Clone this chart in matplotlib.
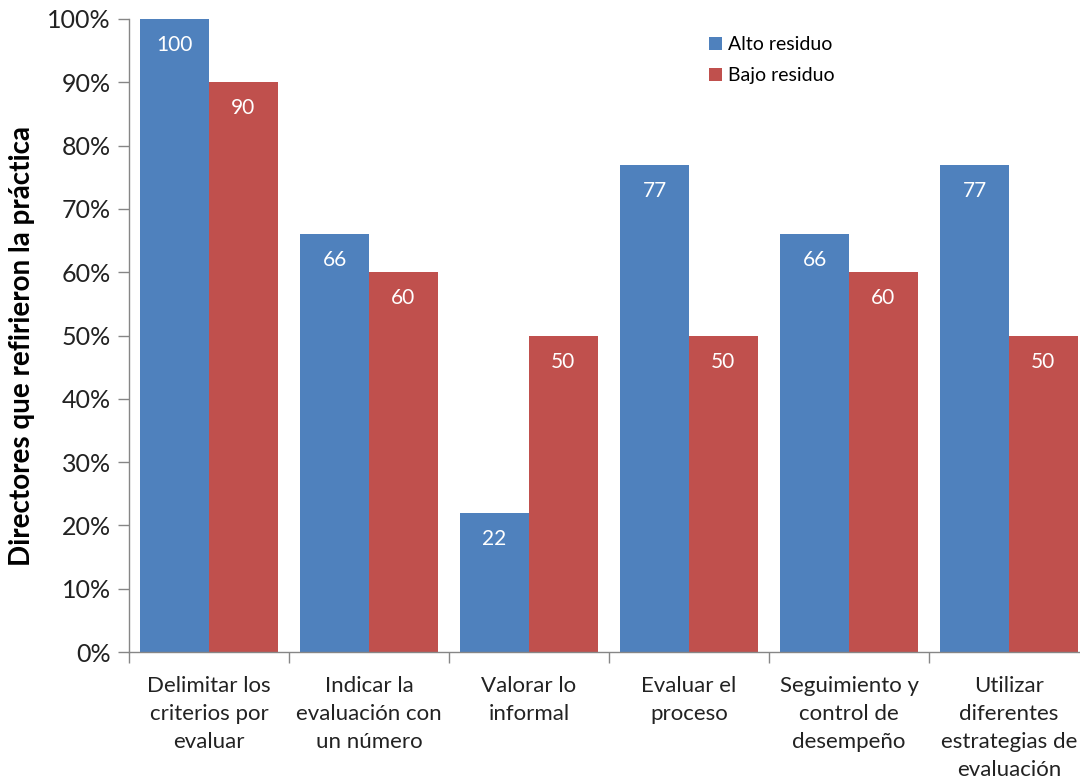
import numpy as np
import matplotlib
matplotlib.use('Agg')
import matplotlib.pyplot as plt
from matplotlib.ticker import FuncFormatter

plt.rcParams['font.family'] = ['Lato', 'DejaVu Sans']

categories = [
    'Delimitar los\ncriterios por\nevaluar',
    'Indicar la\nevaluación con\nun número',
    'Valorar lo\ninformal',
    'Evaluar el\nproceso',
    'Seguimiento y\ncontrol de\ndesempeño',
    'Utilizar\ndiferentes\nestrategias de\nevaluación',
]
alto = [100, 66, 22, 77, 66, 77]
bajo = [90, 60, 50, 50, 60, 50]

blue = '#4F81BD'
red = '#C0504D'
grey = '#868686'
txt = '#222222'

fig = plt.figure(figsize=(10.8, 7.82), dpi=100)
ax = fig.add_axes([129 / 1080, 130 / 782, 960 / 1080, 633 / 782])

x = np.arange(len(categories))
w = 0.43
b1 = ax.bar(x - w / 2, alto, w, color=blue, label='Alto residuo')
b2 = ax.bar(x + w / 2, bajo, w, color=red, label='Bajo residuo')

# white value labels just under the top of each bar
for bars in (b1, b2):
    for rect in bars:
        h = rect.get_height()
        ax.annotate(f'{h:.0f}', (rect.get_x() + rect.get_width() / 2, h),
                    xytext=(0, -26), textcoords='offset pixels',
                    ha='center', va='center', color='white', fontsize=15)

ax.set_xlim(-0.5, len(categories) - 0.5)
ax.set_ylim(0, 100)
ax.set_yticks(np.arange(0, 101, 10))
ax.yaxis.set_major_formatter(FuncFormatter(lambda v, p: f'{v:.0f}%'))
# tick marks between groups, labels centred on groups
ax.set_xticks(np.arange(len(categories) + 1) - 0.5)
ax.set_xticklabels([])
ax.set_xticks(x, minor=True)
ax.set_xticklabels(categories, minor=True, fontsize=16, color=txt,
                   linespacing=1.5)
ax.tick_params(axis='x', which='minor', length=0, pad=17)
ax.tick_params(axis='x', which='major', length=8, color=grey, width=1)
ax.tick_params(axis='y', length=8, color=grey, width=1, labelsize=18,
               labelcolor=txt, pad=5)

for s in ('top', 'right'):
    ax.spines[s].set_visible(False)
for s in ('left', 'bottom'):
    ax.spines[s].set_color(grey)
    ax.spines[s].set_linewidth(1)

fig.text(22 / 1080, 1 - 346 / 782, 'Directores que refirieron la práctica',
         rotation=90, ha='center', va='center', fontsize=20,
         fontweight='bold', color='black')

ax.legend(loc='upper left', bbox_to_anchor=(0.586, 1.0), frameon=False,
          fontsize=14, handlelength=0.65, handleheight=0.65, handletextpad=0.3,
          labelspacing=0.7)

fig.savefig('out.png', dpi=100)
